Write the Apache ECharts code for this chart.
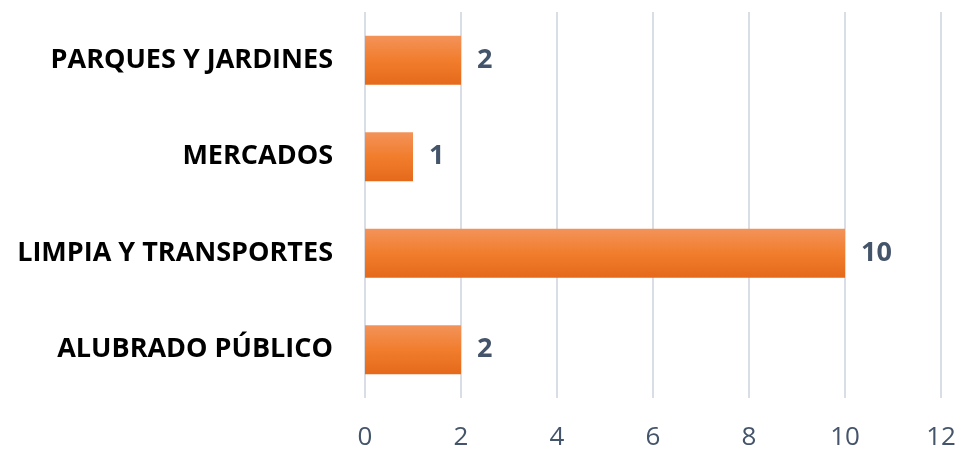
<!DOCTYPE html>
<html>
<head>
<meta charset="utf-8">
<script src="https://cdn.jsdelivr.net/npm/echarts@6/dist/echarts.min.js"></script>
<style>
    html, body { margin: 0; padding: 0; background: #fff; }
    #chart { width: 965px; height: 451px; }
</style>
</head>
<body>
<div id="chart"></div>
<script>
const categories = ['ALUBRADO PÚBLICO', 'LIMPIA Y TRANSPORTES', 'MERCADOS', 'PARQUES Y JARDINES'];
const values = [2, 10, 1, 2];
const axisMax = 12;
const axisStep = 2;

document.addEventListener('DOMContentLoaded', function() {
    const chart = echarts.init(document.getElementById('chart'));

    const option = {
        animation: false,
        grid: {
            left: 365,
            right: 24,
            top: 12,
            bottom: 53,
            containLabel: false
        },
        xAxis: {
            type: 'value',
            min: 0,
            max: axisMax,
            interval: axisStep,
            axisLine: { show: false },
            axisTick: { show: false },
            axisLabel: {
                margin: 27,
                fontFamily: 'Open Sans',
                fontSize: 26,
                color: '#44546a'
            },
            splitLine: {
                lineStyle: { color: '#d9dee6', width: 2 }
            }
        },
        yAxis: {
            type: 'category',
            data: categories,
            axisLine: { show: false },
            axisTick: { show: false },
            axisLabel: {
                margin: 32,
                fontFamily: 'Open Sans',
                fontWeight: 'bold',
                fontSize: 27,
                color: '#000'
            }
        },
        series: [
            {
                type: 'bar',
                data: values,
                barWidth: '51%',
                itemStyle: {
                    color: new echarts.graphic.LinearGradient(0, 0, 0, 1, [
                        { offset: 0, color: '#f3935a' },
                        { offset: 0.5, color: '#f17d2d' },
                        { offset: 1, color: '#e5691b' }
                    ])
                },
                label: {
                    show: true,
                    position: 'right',
                    distance: 16,
                    fontFamily: 'Open Sans',
                    fontWeight: 'bold',
                    fontSize: 27,
                    color: '#44546a'
                }
            }
        ]
    };

    chart.setOption(option);
});
</script>
</body>
</html>
